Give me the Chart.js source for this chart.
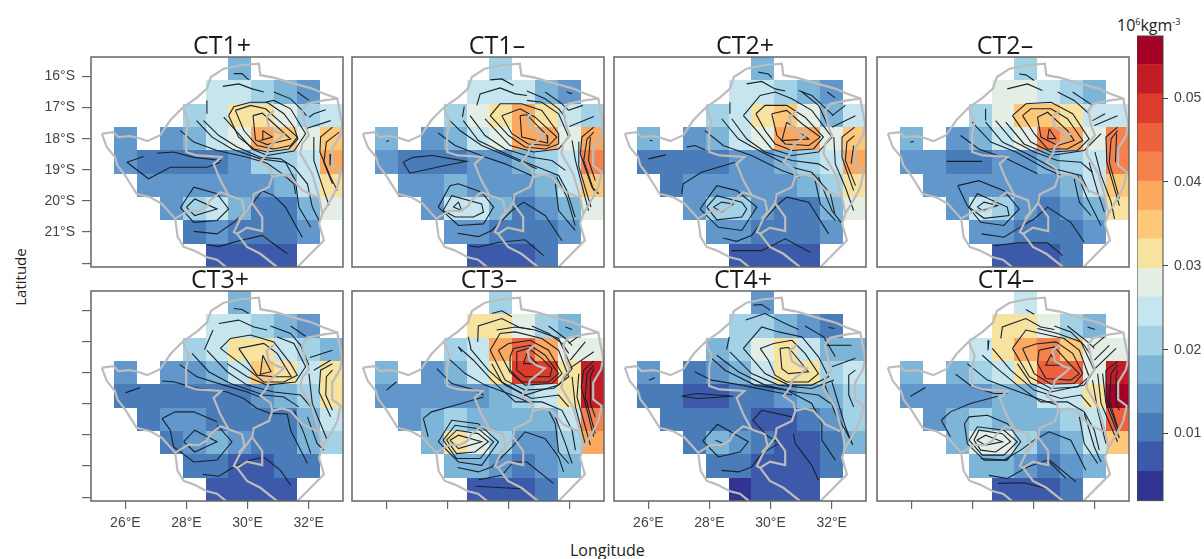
<!DOCTYPE html>
<html lang="en">
  <head>
    <meta charset="UTF-8" />
    <title>CT composites</title>
    <script src="https://cdn.jsdelivr.net/npm/chart.js"></script>
    <style>
      body { margin: 0; background: #ffffff; }
      canvas { position: absolute; filter: blur(0.3px); }
      .label { position: absolute; font-family: "Open Sans", sans-serif; color: #222222; white-space: nowrap; }
      .label sup { font-size: 9px; line-height: 0; }
    </style>
  </head>
  <body>
    <div class="label" style="left:570px; top:539px; font-size:16px;">Longitude</div>
    <div class="label" style="left:-9px; top:267px; font-size:15px; transform:rotate(-90deg);">Latitude</div>
    <div class="label" style="left:1117px; top:14px; font-size:16px;">10<sup>6</sup>kgm<sup>-3</sup></div>
    <script>
      const _ = null;

      // grid cell centres (0.75 degree grid)
      const colLons = [25.25, 26, 26.75, 27.5, 28.25, 29, 29.75, 30.5, 31.25, 32, 32.75];
      const rowLats = [15.75, 16.5, 17.25, 18, 18.75, 19.5, 20.25, 21, 21.75];

      const xTicks = [26, 28, 30, 32];
      const yTicks = [16, 17, 18, 19, 20, 21, 22];
      const barTicks = [10, 20, 30, 40, 50];

      // colour levels, in 10^-3
      const levelBreaks = [2, 5.5, 9, 12.4, 15.9, 19.3, 22.8, 26.3, 29.7, 33.2, 36.6, 40.1, 43.6, 47, 50.5, 54, 57.4];
      const levelColors = ["#313490", "#3c5aa9", "#4a7cb9", "#6197ca", "#7db5d8", "#a3d2e7", "#c6e5ef", "#e5eee5",
        "#f7e2a0", "#fdc978", "#fca85e", "#f6814c", "#ee613d", "#dd3b2b", "#c21d25", "#a50026"];

      // cell values, in 10^-3
      const ct1Plus = [
        [_,_,_,_,_,_,18,_,_,_,_],
        [_,_,_,_,_,25,25,21,18,14,_],
        [_,_,_,_,21,25,31,31,28,21,25],
        [_,14,_,14,18,25,28,38,35,28,35],
        [_,14,11,11,11,11,14,21,21,25,38],
        [_,_,14,14,14,14,14,14,18,25,31],
        [_,_,_,14,21,25,18,11,11,18,28],
        [_,_,_,_,11,14,11,11,11,14,_],
        [_,_,_,_,_,7,7,7,7,_,_],
      ];
      const ct1Minus = [
        [_,_,_,_,_,_,21,_,_,_,_],
        [_,_,_,_,_,25,25,25,18,14,_],
        [_,_,_,_,21,28,31,38,31,25,21],
        [_,18,_,14,18,25,28,38,38,28,38],
        [_,14,11,11,11,14,14,18,21,25,42],
        [_,_,14,14,18,14,14,14,18,25,35],
        [_,_,_,14,25,25,18,11,14,18,28],
        [_,_,_,_,14,14,11,11,11,14,_],
        [_,_,_,_,_,7,7,7,11,_,_],
      ];
      const ct2Plus = [
        [_,_,_,_,_,_,18,_,_,_,_],
        [_,_,_,_,_,25,25,21,18,14,_],
        [_,_,_,_,21,25,31,35,28,18,25],
        [_,18,_,14,18,25,28,38,38,28,35],
        [_,11,11,11,11,14,14,18,21,25,38],
        [_,_,11,14,14,14,14,14,18,21,31],
        [_,_,_,14,21,21,14,11,11,18,28],
        [_,_,_,_,14,14,11,11,11,14,_],
        [_,_,_,_,_,7,7,7,7,_,_],
      ];
      const ct2Minus = [
        [_,_,_,_,_,_,21,_,_,_,_],
        [_,_,_,_,_,28,28,25,21,18,_],
        [_,_,_,_,21,28,35,35,31,25,25],
        [_,18,_,14,18,25,28,42,38,28,42],
        [_,14,14,11,11,14,14,18,21,25,42],
        [_,_,14,14,14,14,14,14,18,25,35],
        [_,_,_,14,25,21,14,11,14,18,31],
        [_,_,_,_,14,14,11,11,11,14,_],
        [_,_,_,_,_,7,7,7,11,_,_],
      ];
      const ct3Plus = [
        [_,_,_,_,_,_,18,_,_,_,_],
        [_,_,_,_,_,25,25,21,18,14,_],
        [_,_,_,_,21,25,31,31,25,21,18],
        [_,14,_,14,14,18,25,35,31,25,31],
        [_,11,11,11,11,11,11,14,18,21,31],
        [_,_,11,14,14,11,11,11,11,18,25],
        [_,_,_,11,14,18,14,11,11,18,21],
        [_,_,_,_,11,11,7,7,11,11,_],
        [_,_,_,_,_,7,7,7,7,_,_],
      ];
      const ct3Minus = [
        [_,_,_,_,_,_,21,_,_,_,_],
        [_,_,_,_,_,31,31,28,21,18,_],
        [_,_,_,_,21,25,38,45,38,28,28],
        [_,18,_,14,18,25,31,49,49,31,52],
        [_,14,14,14,14,14,18,21,25,31,52],
        [_,_,14,18,21,18,18,18,18,25,42],
        [_,_,_,18,31,28,21,14,14,21,38],
        [_,_,_,_,18,18,14,11,14,18,_],
        [_,_,_,_,_,7,7,7,11,_,_],
      ];
      const ct4Plus = [
        [_,_,_,_,_,_,14,_,_,_,_],
        [_,_,_,_,_,21,21,18,14,11,_],
        [_,_,_,_,18,21,28,31,25,18,18],
        [_,14,_,11,14,18,25,31,31,21,25],
        [_,11,11,7,7,11,11,14,18,18,21],
        [_,_,11,11,11,11,7,7,11,14,21],
        [_,_,_,11,18,14,11,7,7,11,18],
        [_,_,_,_,11,11,7,7,7,11,_],
        [_,_,_,_,_,4,7,7,7,_,_],
      ];
      const ct4Minus = [
        [_,_,_,_,_,_,25,_,_,_,_],
        [_,_,_,_,_,31,31,28,21,18,_],
        [_,_,_,_,25,31,38,42,35,28,28],
        [_,18,_,18,21,25,31,45,45,28,52],
        [_,14,14,14,14,18,18,25,25,31,56],
        [_,_,14,18,21,18,18,18,21,25,45],
        [_,_,_,18,28,28,21,14,18,25,35],
        [_,_,_,_,18,18,14,11,14,18,_],
        [_,_,_,_,_,7,7,7,11,_,_],
      ];

      // country and basin outlines, flat lon,lat(S) lists
      const borderLines = [
        [25.23,17.84, 25.61,17.79, 25.77,17.95, 26.15,17.92, 26.40,17.97, 26.72,18.08, 27.14,17.89, 27.47,17.41, 27.88,17.00, 28.34,16.68, 28.67,16.39, 28.80,16.02, 29.22,15.75, 29.77,15.64, 30.37,15.59, 30.42,15.96, 30.86,16.04, 31.52,16.23, 32.12,16.39, 32.45,16.53, 32.94,16.71, 32.99,17.00, 33.10,17.52, 33.03,17.89, 32.77,18.32, 32.77,18.86, 33.05,19.07, 32.94,19.55, 32.77,19.88, 32.45,20.41, 32.34,20.73, 32.50,21.27, 31.63,22.13],
        [25.23,17.84, 25.39,18.27, 25.66,18.59, 25.74,18.86, 25.99,19.18, 26.37,19.77, 26.81,19.88, 27.19,20.09, 27.63,20.57, 27.71,21.16, 27.91,21.48, 28.23,21.59, 28.67,21.81, 29.00,21.89, 29.30,22.13],
        [27.88,17.00, 28.07,17.46, 27.99,17.84, 27.99,18.43, 28.34,18.54, 28.89,18.57, 29.14,18.59, 28.89,18.81, 29.11,19.34, 29.38,19.82, 29.82,19.98, 29.90,20.36, 29.71,20.57],
        [30.86,17.11, 30.62,17.30, 30.70,17.63, 30.97,17.79, 31.19,17.86, 30.97,18.05, 30.70,18.25, 30.64,18.48, 30.42,18.75, 30.75,18.97, 30.81,19.23, 30.70,19.55, 30.20,19.79, 30.15,20.07, 30.48,20.52, 30.48,20.97, 29.98,20.86, 29.66,21.06, 29.98,21.48, 30.42,21.70, 30.97,22.13],
        [30.81,19.23, 31.13,19.15, 31.41,19.23, 31.79,19.66, 32.28,19.88],
        [32.96,16.71, 32.50,16.77, 31.95,16.88, 31.79,17.11, 31.90,17.63, 32.01,17.89, 31.79,18.16, 31.73,18.48, 32.12,19.13, 32.34,19.88, 32.45,20.41],
        [27.63,20.57, 28.07,20.31, 28.40,20.33, 28.67,20.18, 28.78,19.98, 29.11,19.72, 29.38,19.82],
        [30.15,20.07, 29.77,20.57, 29.55,21.00, 29.66,21.06],
      ];

      // contour lines per panel, flat lon,lat(S) lists
      const ct1PlusLines = [
        [29.55,15.91, 29.82,15.91, 30.04,16.11],
        [29.19,16.32, 29.71,16.24, 30.15,16.40, 30.53,16.50],
        [30.86,16.50, 31.41,16.72, 31.74,17.04, 31.93,17.26],
        [31.63,16.50, 32.01,16.77],
        [32.01,17.31, 32.17,17.20, 32.56,17.07],
        [31.90,17.68, 32.72,17.42],
        [28.67,16.77, 28.67,17.20],
        [30.50,17.74, 30.81,17.95, 30.48,18.04, 30.50,17.74],
        [30.18,17.26, 30.48,17.18, 30.86,17.52, 31.41,18.01, 30.64,18.19, 30.26,18.04, 30.18,17.26],
        [29.60,17.09, 30.10,16.93, 30.59,17.04, 31.08,17.47, 31.63,17.95, 31.41,18.22, 30.86,18.33, 30.31,18.22, 29.88,17.74, 29.60,17.09],
        [29.38,17.26, 29.55,16.97, 30.10,16.83, 30.64,16.83, 31.19,17.20, 31.52,17.63, 31.65,18.01, 31.35,18.33, 30.64,18.43, 30.21,18.33, 29.71,17.95, 29.38,17.26],
        [29.22,17.31, 29.66,17.79, 30.15,18.33, 30.64,18.54, 31.52,18.40, 31.90,17.84, 31.41,17.04, 30.86,16.77, 30.59,16.83],
        [28.56,17.42, 29.06,17.90, 29.66,18.27, 30.42,18.60, 31.08,18.65, 31.52,18.92, 31.96,19.45, 32.12,20.20, 32.34,20.63],
        [28.33,17.42, 28.84,17.95, 29.49,18.33, 30.42,18.65, 31.24,18.76, 31.57,19.35, 31.68,20.20, 32.07,20.85],
        [27.80,17.74, 28.24,18.11, 29.00,18.38, 29.99,18.60, 30.64,18.79, 31.14,19.13, 31.52,19.45, 31.57,19.77],
        [27.03,18.47, 27.58,18.43, 28.24,18.60, 29.14,18.70],
        [26.05,18.76, 26.60,18.57],
        [26.05,18.76, 26.76,19.29, 27.47,18.92, 28.67,18.92, 29.11,18.76],
        [27.80,20.22, 28.24,19.56, 29.00,19.77, 29.38,20.26, 29.00,20.63, 28.24,20.69, 27.80,20.22],
        [28.00,20.20, 28.27,19.94, 29.00,20.26, 28.27,20.47, 28.00,20.20],
        [28.24,20.98, 29.00,21.06, 29.55,20.69, 30.15,20.10, 30.48,19.67, 30.86,19.83, 31.24,20.20, 31.79,21.17],
        [28.67,21.40, 29.06,21.47, 29.66,21.30, 30.48,21.11, 31.30,21.70],
        [32.78,17.63, 32.39,17.95, 32.37,18.43, 32.72,19.24, 32.94,19.67],
        [33.00,17.79, 32.58,18.11, 32.50,18.76, 32.78,19.45],
        [32.72,18.49, 32.70,18.86],
        [32.17,17.95, 32.17,18.70, 32.50,19.67, 32.67,20.15],
      ];
      const ct1MinusLines = [
        [29.40,16.11, 29.78,16.08, 30.16,16.29],
        [28.96,16.93, 29.07,16.56, 29.72,16.37, 30.22,16.56, 30.60,16.61],
        [30.60,16.47, 31.20,16.72, 31.64,17.04, 31.86,17.31],
        [31.20,16.50, 31.75,16.88, 31.97,17.09],
        [31.91,16.50, 32.08,16.56],
        [31.97,17.09, 32.43,16.93],
        [31.99,17.61, 32.79,17.29],
        [28.55,16.97, 28.49,17.31],
        [26.00,18.09, 26.09,18.06],
        [30.38,17.26, 30.60,17.23, 31.26,17.90, 31.28,18.14, 30.43,17.95, 30.38,17.26],
        [29.78,17.26, 30.38,17.04, 30.87,17.31, 31.58,17.95, 31.31,18.22, 30.65,18.17, 30.11,17.84, 29.78,17.26],
        [29.40,17.26, 29.72,16.88, 30.43,16.88, 31.09,17.09, 31.64,17.84, 31.64,18.17, 31.20,18.33, 30.54,18.27, 30.00,17.90, 29.40,17.26],
        [29.23,17.36, 30.05,18.22, 30.82,18.43, 31.64,18.33, 31.97,17.95, 31.64,17.20, 31.09,16.83, 30.60,16.77],
        [28.74,17.26, 29.23,17.90, 29.89,18.33, 30.76,18.60, 31.42,18.70, 31.86,19.02],
        [28.52,17.42, 29.01,18.06, 29.78,18.43, 30.54,18.76, 31.09,18.97, 31.64,19.18, 31.91,19.67, 32.18,20.52],
        [28.08,17.42, 28.41,17.74, 29.12,18.22, 30.05,18.60, 30.92,18.97],
        [27.70,17.82, 28.25,18.22, 29.18,18.57, 29.89,18.81, 30.76,19.19],
        [31.58,19.24, 31.91,19.88, 32.18,20.79],
        [31.53,19.45, 31.64,20.31, 32.18,20.95],
        [26.55,18.76, 26.88,18.60, 27.50,18.54, 28.63,18.73, 27.92,18.86, 26.77,19.11, 26.55,18.76],
        [27.70,20.20, 28.08,19.51, 28.36,19.45, 29.12,19.72, 29.51,20.20, 29.18,20.74, 28.36,20.79, 27.70,20.20],
        [27.86,20.31, 28.14,19.83, 29.12,20.10, 29.18,20.36, 28.85,20.52, 28.25,20.52, 27.86,20.31],
        [28.19,20.20, 28.36,20.04, 28.47,20.31, 28.19,20.20],
        [28.33,21.04, 29.01,21.15, 29.45,20.95, 30.11,20.31, 30.49,20.04, 31.20,20.47, 31.75,21.28],
        [28.71,21.44, 29.01,21.49, 29.67,21.33, 30.54,21.25, 31.15,21.76],
        [32.79,17.63, 32.40,17.95, 32.35,18.49, 32.73,19.56, 32.95,19.77],
        [32.79,17.79, 32.57,18.01, 32.46,18.70, 32.79,19.67],
        [32.68,17.95, 32.62,18.70, 32.84,19.35],
        [32.08,18.06, 32.19,18.70, 32.62,20.31],
        [32.30,18.10, 32.30,18.90, 32.70,20.20],
      ];
      const ct2PlusLines = [
        [29.60,15.86, 29.93,15.92, 30.04,16.04],
        [29.22,16.24, 29.71,16.16, 30.15,16.40, 30.48,16.47],
        [31.03,16.50, 31.57,16.93, 31.85,17.52],
        [30.92,16.45, 31.35,16.61, 31.79,17.01, 32.06,17.26],
        [31.85,16.50, 32.12,16.69],
        [32.01,17.26, 32.45,16.93],
        [32.01,17.63, 32.78,17.26],
        [28.67,16.83, 28.67,17.20],
        [26.05,18.05, 26.13,18.07],
        [26.00,18.65, 26.57,18.52],
        [27.25,18.27, 27.52,18.22, 27.85,18.36],
        [27.09,19.77, 27.14,19.45, 27.74,19.08, 28.84,18.76],
        [30.53,17.47, 30.37,18.06, 31.25,18.01, 30.53,17.47],
        [30.04,17.20, 30.53,17.09, 31.03,17.52, 31.63,17.95, 31.25,18.22, 30.48,18.17, 30.21,17.90, 30.04,17.20],
        [29.52,17.20, 29.82,16.93, 30.53,16.93, 31.13,17.31, 31.73,17.95, 31.41,18.33, 30.70,18.38, 30.15,18.17, 29.82,17.74, 29.52,17.20],
        [29.11,17.26, 29.66,16.61, 30.15,16.50, 30.70,16.72, 31.35,17.09, 32.01,17.95, 31.57,18.43, 30.70,18.54, 30.04,18.33, 29.55,17.74, 29.11,17.26],
        [28.73,17.36, 29.22,18.01, 29.82,18.43, 30.70,18.70, 31.57,18.81, 31.90,19.02],
        [28.40,17.36, 28.95,18.01, 29.71,18.43, 30.70,18.92, 31.35,19.08, 31.96,19.77, 32.10,20.40],
        [27.85,17.74, 28.45,18.22, 29.38,18.54, 30.37,19.02, 30.97,19.24],
        [31.57,19.24, 32.01,20.31, 32.34,20.74],
        [31.46,19.35, 31.63,20.10, 32.12,20.63],
        [27.69,20.26, 28.24,19.51, 28.89,19.67, 29.55,20.20, 29.06,20.95, 28.29,20.85, 27.69,20.26],
        [27.91,20.20, 28.24,19.83, 29.06,20.04, 29.22,20.26, 29.06,20.52, 28.24,20.61, 27.91,20.20],
        [28.13,20.20, 28.40,20.04, 28.78,20.10, 28.40,20.36, 28.13,20.20],
        [28.45,21.19, 28.89,21.30, 29.38,21.11, 29.71,20.69, 30.26,20.10, 30.53,19.88, 31.25,20.04, 31.90,21.06],
        [28.73,21.60, 29.71,21.60, 30.48,21.22, 31.30,21.65],
        [32.75,17.63, 32.34,17.95, 32.34,18.60, 32.72,19.67],
        [32.75,17.90, 32.50,18.11, 32.45,18.70, 32.78,19.51],
        [32.72,18.22, 32.64,18.81],
        [32.07,17.95, 32.12,18.81, 32.45,19.56, 32.72,20.31],
      ];
      const ct2MinusLines = [
        [29.53,15.92, 29.75,15.95, 30.02,16.13],
        [29.14,16.40, 29.80,16.24, 30.29,16.45],
        [30.79,16.50, 31.33,16.77, 31.82,17.20],
        [31.28,16.50, 31.93,16.93],
        [31.93,17.42, 32.34,17.20],
        [31.99,17.58, 32.75,17.26],
        [28.43,17.04, 28.43,17.42],
        [25.97,18.11, 26.08,18.09],
        [27.15,18.73, 28.32,18.73],
        [30.51,17.68, 30.73,18.00, 30.46,18.00, 30.51,17.68],
        [30.13,17.31, 30.46,17.15, 31.11,17.74, 31.33,18.06, 30.79,18.22, 30.24,17.95, 30.13,17.31],
        [29.64,17.26, 29.91,17.04, 30.57,17.04, 31.11,17.36, 31.61,18.06, 31.11,18.33, 30.46,18.33, 30.02,17.84, 29.64,17.26],
        [29.31,17.26, 29.75,16.88, 30.57,16.83, 31.28,17.20, 31.82,18.01, 31.44,18.38, 30.57,18.43, 29.91,18.11, 29.31,17.26],
        [29.09,17.47, 29.69,18.17, 30.57,18.54, 31.66,18.38, 32.21,17.84],
        [28.76,17.42, 29.31,18.06, 30.02,18.43, 30.79,18.70, 31.55,18.76, 31.93,19.08],
        [28.43,17.47, 28.98,18.11, 29.80,18.49, 30.68,18.97, 31.55,19.18, 31.82,19.72],
        [27.99,17.47, 28.60,18.11, 29.42,18.43, 30.40,18.97, 30.89,19.18],
        [27.61,17.90, 28.21,18.33, 29.14,18.65, 30.13,19.13],
        [31.44,19.18, 31.77,19.94, 32.21,20.79],
        [31.33,19.29, 31.50,20.04, 31.88,20.47],
        [27.52,19.51, 28.21,19.35, 29.03,19.67, 29.53,20.26, 29.03,20.79, 28.27,20.69, 27.83,20.15, 27.52,19.51],
        [27.89,20.20, 28.16,19.77, 29.14,20.20, 29.20,20.47, 28.38,20.56, 27.89,20.20],
        [28.16,20.20, 28.38,20.04, 28.82,20.15, 28.32,20.31, 28.16,20.20],
        [28.30,21.06, 29.03,21.17, 29.47,20.90, 30.02,20.58, 30.46,20.20, 31.22,20.69, 31.66,21.33],
        [28.71,21.44, 29.47,21.35, 30.46,21.35, 30.95,21.76],
        [32.75,17.63, 32.37,17.95, 32.40,18.76, 32.81,20.15],
        [32.75,17.74, 32.54,18.01, 32.48,18.76, 32.81,19.93],
        [32.72,17.84, 32.68,18.76],
        [32.01,18.43, 32.21,19.18, 32.54,20.04, 32.65,20.58],
        [31.82,18.76, 32.10,19.72, 32.32,20.36],
      ];
      const ct3PlusLines = [
        [29.55,15.94, 29.82,15.97, 30.04,16.10],
        [29.06,16.42, 29.71,16.31, 30.21,16.53, 30.64,16.63],
        [30.75,16.50, 31.41,16.74, 31.74,17.12, 32.01,17.76],
        [31.41,16.50, 31.90,16.83],
        [32.04,17.51, 32.78,17.28],
        [32.17,17.92, 32.72,17.60],
        [28.87,16.63, 28.59,17.26],
        [26.00,18.65, 26.49,18.48],
        [27.20,18.27, 27.58,18.29, 28.24,18.48, 29.33,18.62, 29.88,18.83, 30.31,19.15, 30.75,19.31, 31.30,19.33, 31.41,19.85, 31.96,20.92],
        [30.50,17.44, 30.77,17.97, 30.42,18.05, 30.50,17.44],
        [29.71,17.22, 30.53,17.06, 30.97,17.38, 31.43,18.13, 30.86,18.13, 30.31,18.08, 29.71,17.22],
        [29.11,17.22, 29.44,16.90, 30.10,16.79, 30.86,17.01, 31.41,17.71, 31.63,18.08, 31.19,18.30, 30.53,18.30, 29.99,17.87, 29.11,17.22],
        [29.33,17.71, 29.99,18.13, 30.64,18.40, 31.57,18.30, 31.90,17.81, 31.52,17.06, 30.97,16.85],
        [28.67,17.28, 29.33,17.97, 29.99,18.40, 30.86,18.62, 31.74,18.72, 32.07,19.10],
        [28.18,17.38, 28.73,17.97, 29.44,18.35, 30.53,18.72, 31.19,18.78, 31.68,19.10],
        [27.78,17.74, 28.34,18.13, 29.22,18.40, 29.99,18.62, 30.53,18.83],
        [31.52,19.21, 31.85,19.96, 32.07,20.60],
        [31.96,19.42, 32.28,20.28, 32.50,20.49],
        [27.20,19.47, 27.63,19.26, 28.24,19.26, 29.00,19.58],
        [27.20,19.47, 27.47,19.85, 27.58,20.39, 28.24,20.87, 29.00,20.81, 29.49,20.22, 29.00,19.69],
        [27.91,20.22, 28.27,19.85, 29.00,20.22, 28.27,20.55, 27.91,20.22],
        [28.54,21.27, 29.06,21.33, 29.55,21.03, 30.10,20.81, 30.53,20.71, 31.08,21.14, 31.41,21.62],
        [32.78,17.71, 32.39,17.92, 32.34,18.62, 32.72,19.42],
        [32.78,17.92, 32.58,18.13, 32.56,18.72, 32.78,19.21],
        [32.01,18.03, 32.12,18.99, 32.61,20.17],
      ];
      const ct3MinusLines = [
        [29.45,16.10, 29.78,16.01, 30.11,16.20],
        [28.99,17.01, 29.01,16.50, 29.78,16.26, 30.33,16.53, 30.76,16.61],
        [30.76,16.50, 31.31,16.74, 31.75,17.06, 31.97,17.38],
        [31.31,16.50, 31.86,16.90, 32.08,17.12],
        [31.86,16.53, 32.08,16.61],
        [31.97,17.06, 32.35,16.79],
        [32.02,17.60, 32.51,17.01],
        [31.99,17.87, 32.79,17.33],
        [28.36,17.17, 28.47,17.33],
        [28.68,16.85, 28.77,17.22],
        [26.00,18.56, 26.33,18.30],
        [30.60,17.38, 30.49,17.71, 30.93,17.71, 30.60,17.38],
        [30.27,17.33, 30.65,17.22, 31.09,17.54, 31.42,17.87, 31.36,18.13, 30.54,18.13, 30.27,17.92, 30.27,17.33],
        [30.05,17.49, 30.16,17.22, 30.71,17.12, 31.20,17.44, 31.64,18.03, 31.31,18.30, 30.43,18.30, 30.05,17.92, 30.05,17.49],
        [29.67,17.28, 30.00,17.06, 30.71,16.96, 31.31,17.28, 31.75,18.03, 31.42,18.35, 30.54,18.40, 30.05,17.99, 29.67,17.28],
        [29.40,17.28, 29.72,16.74, 30.22,16.69, 31.09,16.90, 31.64,17.28, 31.97,18.13, 31.47,18.51, 30.54,18.56, 29.89,18.24, 29.40,17.28],
        [29.45,17.71, 29.78,18.30, 30.54,18.72, 31.64,18.40, 32.08,17.87, 31.64,16.90, 30.87,16.63, 30.22,16.53, 29.61,16.63],
        [28.74,17.22, 29.34,17.92, 29.89,18.40, 30.76,18.83, 31.64,18.72, 31.97,19.10],
        [28.36,17.17, 28.85,17.60, 29.45,18.24, 30.22,18.94, 31.09,18.94, 31.75,19.21, 32.08,19.85, 32.19,20.49],
        [28.03,17.54, 28.58,18.03, 29.23,18.40, 30.11,18.72, 30.76,18.99],
        [27.65,17.87, 28.14,18.35, 28.90,18.56, 29.18,18.72],
        [27.21,19.47, 27.48,19.26, 28.25,19.05, 29.18,18.78],
        [27.21,19.47, 27.37,20.06],
        [31.53,19.42, 31.86,20.28, 32.08,20.92],
        [31.31,19.21, 31.53,19.64, 31.64,20.55, 31.97,20.92],
        [27.70,20.22, 28.14,19.53, 29.01,19.64, 29.67,20.22, 29.12,20.98, 28.36,20.87, 27.70,20.22],
        [27.86,20.17, 28.25,19.69, 29.01,19.80, 29.51,20.22, 29.07,20.76, 28.30,20.76, 27.86,20.17],
        [27.97,20.17, 28.30,19.85, 29.01,19.96, 29.34,20.22, 28.90,20.55, 28.30,20.60, 27.97,20.17],
        [28.08,20.17, 28.36,20.01, 29.12,20.22, 28.36,20.44, 28.08,20.17],
        [28.33,21.05, 29.01,21.19, 29.45,21.03, 30.11,20.39, 30.54,19.90, 31.20,20.12, 31.64,20.71, 31.80,21.19],
        [29.01,21.44, 29.78,21.30, 30.16,20.87, 30.60,20.87, 31.47,21.56],
        [28.93,21.65, 30.43,21.73],
        [32.79,17.62, 32.46,17.92, 32.38,18.46, 32.79,20.06],
        [32.79,17.76, 32.57,18.03, 32.51,18.78, 32.84,19.96],
        [32.79,17.87, 32.68,18.13, 32.68,18.99, 32.84,19.42],
        [32.30,18.03, 32.24,18.78, 32.68,20.33],
        [32.08,18.13, 32.19,19.10, 32.51,20.28],
      ];
      const ct4PlusLines = [
        [29.44,15.83, 29.71,15.81, 29.99,15.99],
        [29.19,16.31, 29.82,16.10, 30.48,16.42, 30.92,16.61],
        [31.13,16.50, 31.74,16.85, 32.12,17.49],
        [31.90,16.55, 32.10,16.58],
        [31.79,17.12, 32.65,17.12],
        [32.01,17.81, 32.78,17.54],
        [28.65,16.85, 28.56,17.26],
        [26.02,18.24, 26.21,18.16],
        [27.09,18.76, 27.58,18.67, 28.78,18.76, 27.63,18.83, 27.09,18.76],
        [30.31,17.22, 30.59,17.19, 31.24,17.97, 30.59,18.03, 30.37,17.87, 30.31,17.22],
        [29.66,17.22, 30.10,17.06, 30.70,16.96, 31.13,17.38, 31.57,18.03, 31.24,18.30, 30.53,18.30, 30.15,18.08, 29.93,17.60, 29.66,17.22],
        [29.11,17.22, 29.71,16.53, 30.26,16.69, 31.03,16.85, 31.57,17.49, 31.90,18.13, 31.35,18.40, 30.59,18.40, 29.82,18.03, 29.11,17.22],
        [28.67,17.33, 29.38,18.03, 30.26,18.40, 31.35,18.51, 32.07,18.24],
        [28.24,17.44, 28.95,17.97, 29.82,18.40, 30.81,18.62, 31.57,18.72, 31.96,18.99],
        [28.02,17.49, 28.51,17.92, 29.49,18.40, 30.53,18.56, 31.35,18.99, 31.68,19.64, 31.68,20.17, 32.12,20.81],
        [27.52,17.97, 28.07,18.24, 29.06,18.40, 30.15,18.62, 30.70,18.72],
        [29.42,19.53, 29.71,19.21, 30.70,19.42],
        [29.42,19.53, 29.93,20.06, 30.31,20.26],
        [30.75,19.96, 30.81,20.28, 31.35,20.98, 31.57,21.46],
        [31.74,18.30, 32.12,19.31, 32.45,19.85, 32.67,20.28],
        [32.01,18.30, 32.45,19.74, 32.69,20.33],
        [32.78,17.92, 32.56,18.08, 32.56,18.72, 32.72,19.10],
        [27.78,20.19, 28.26,19.66, 29.27,20.22, 29.00,20.55, 28.29,20.71, 27.78,20.19],
        [28.20,20.17, 28.42,20.26],
        [28.40,21.14, 28.95,21.19, 29.38,21.03, 29.71,20.60, 30.26,20.28],
      ];
      const ct4MinusLines = [
        [29.75,15.97, 30.02,16.12],
        [28.93,16.90, 28.98,16.53, 29.75,16.26, 30.24,16.53, 30.68,16.61],
        [30.68,16.50, 31.22,16.69, 31.66,17.12, 31.88,17.44],
        [31.11,16.50, 31.77,17.01, 31.99,17.22],
        [31.77,16.53, 32.01,16.61],
        [31.93,17.17, 32.32,16.85],
        [31.99,17.60, 32.48,17.12],
        [32.01,17.87, 32.70,17.22],
        [28.54,16.96, 28.51,17.28],
        [25.97,18.76, 26.46,18.48],
        [26.98,19.53, 27.28,19.26, 27.94,18.99, 28.82,18.76],
        [26.98,19.53, 27.28,20.06],
        [30.57,17.42, 30.40,17.76, 30.84,17.76, 30.57,17.42],
        [30.13,17.71, 30.18,17.28, 30.68,17.17, 31.22,17.76, 31.50,18.03, 31.22,18.24, 30.40,18.19, 30.13,17.71],
        [29.64,17.22, 30.07,17.08, 30.73,17.01, 31.28,17.38, 31.61,18.03, 31.33,18.35, 30.57,18.37, 30.02,18.03, 29.64,17.22],
        [29.31,17.22, 29.75,16.63, 30.24,16.74, 31.00,16.90, 31.50,17.28, 31.82,18.13, 31.44,18.46, 30.57,18.51, 29.86,18.13, 29.31,17.22],
        [29.47,17.71, 29.91,18.35, 30.57,18.62, 31.66,18.40, 31.99,17.92, 31.55,17.01, 30.79,16.74, 30.13,16.58],
        [28.65,17.22, 29.25,17.92, 30.02,18.56, 30.89,18.83, 31.55,18.72, 31.88,19.10],
        [28.32,17.44, 28.87,17.92, 29.47,18.40, 30.24,18.94, 31.11,18.94, 31.66,19.26, 31.99,19.85, 32.15,20.49],
        [27.83,17.71, 28.49,18.24, 29.36,18.56, 30.13,18.83, 30.79,19.05],
        [27.45,18.05, 28.00,18.46, 28.71,18.67, 29.14,18.67],
        [31.50,19.42, 31.66,20.28, 32.10,20.92],
        [31.66,19.31, 31.99,20.39, 32.21,20.87],
        [27.74,19.64, 27.89,19.42, 28.49,19.37, 29.14,19.64, 29.58,20.22, 29.14,20.81, 28.38,20.81, 27.83,20.28, 27.74,19.64],
        [27.89,20.17, 28.16,19.74, 29.03,19.85, 29.47,20.22, 29.03,20.65, 28.32,20.65, 27.89,20.17],
        [28.05,20.17, 28.21,19.85, 28.98,19.96, 29.25,20.22, 28.76,20.55, 28.27,20.49, 28.05,20.17],
        [28.14,20.17, 28.43,20.01, 28.98,20.22, 28.43,20.33, 28.14,20.17],
        [28.27,20.76, 29.03,20.81, 29.58,20.49, 30.02,20.17, 30.51,19.90, 31.22,20.17, 31.71,21.14],
        [28.54,21.30, 29.14,21.40, 29.80,21.03, 30.46,20.81, 31.06,21.40],
        [28.84,21.56, 29.69,21.54, 30.46,21.73],
        [30.46,20.76, 31.39,21.51],
        [32.75,17.65, 32.37,17.92, 32.37,18.78, 32.75,19.80],
        [32.75,17.76, 32.54,18.03, 32.48,18.89, 32.75,19.74],
        [32.75,17.92, 32.70,18.13, 32.70,18.99, 32.81,19.21],
        [32.10,18.03, 32.21,18.99, 32.75,20.22],
        [32.26,18.03, 32.37,18.99, 32.81,20.10],
        [31.93,18.24, 32.10,19.21, 32.37,20.28],
      ];

      function toPoints(flat) {
        const points = [];
        for (let i = 0; i < flat.length; i += 2) {
          points.push({ x: flat[i], y: flat[i + 1] });
        }
        return points;
      }

      function levelColor(value) {
        for (let i = 0; i < levelColors.length; i++) {
          if (value < levelBreaks[i + 1]) return levelColors[i];
        }
        return levelColors[levelColors.length - 1];
      }

      // fills the grid cells under the lines, then frame and title on top
      const panelPlugin = {
        id: "panel",
        beforeDatasetsDraw(chart, args, opts) {
          const ctx = chart.ctx;
          const xs = chart.scales.x;
          const ys = chart.scales.y;
          opts.cells.forEach((row, r) => {
            row.forEach((value, c) => {
              if (value === null) return;
              const x0 = Math.round(xs.getPixelForValue(colLons[c] - 0.375));
              const x1 = Math.round(xs.getPixelForValue(colLons[c] + 0.375));
              const y0 = Math.round(ys.getPixelForValue(rowLats[r] - 0.375));
              const y1 = Math.round(ys.getPixelForValue(rowLats[r] + 0.375));
              ctx.fillStyle = levelColor(value);
              ctx.fillRect(x0, y0, x1 - x0, y1 - y0);
            });
          });
        },
        afterDatasetsDraw(chart, args, opts) {
          const ctx = chart.ctx;
          const a = chart.chartArea;
          ctx.strokeStyle = "#666666";
          ctx.lineWidth = 1.5;
          ctx.strokeRect(a.left, a.top, a.right - a.left, a.bottom - a.top);
          ctx.fillStyle = "#1a1a1a";
          ctx.font = '25px "Open Sans"';
          ctx.textAlign = "center";
          ctx.textBaseline = "alphabetic";
          ctx.fillText(opts.title, (a.left + a.right) / 2 + opts.titleShift, a.top - 3);
        },
      };

      function drawPanel(title, titleShift, cells, lines, left, top, showY, showYLabels, showX, showXLabels) {
        const canvas = document.createElement("canvas");
        canvas.width = 372;
        canvas.height = 286;
        canvas.style.left = left - 60 + "px";
        canvas.style.top = top - 36 + "px";
        document.body.appendChild(canvas);

        const datasets = [];
        borderLines.forEach((line) => {
          datasets.push({ data: toPoints(line), borderColor: "#bcbcbc", borderWidth: 2.2 });
        });
        lines.forEach((line) => {
          datasets.push({ data: toPoints(line), borderColor: "#17222e", borderWidth: 1.1 });
        });

        new Chart(canvas, {
          type: "scatter",
          data: { datasets: datasets },
          options: {
            responsive: false,
            animation: false,
            showLine: true,
            elements: { point: { radius: 0 }, line: { tension: 0 } },
            layout: { padding: { top: 36, right: 60, left: 0, bottom: 0 } },
            plugins: {
              legend: { display: false },
              tooltip: { enabled: false },
              panel: { title: title, titleShift: titleShift, cells: cells },
            },
            scales: {
              x: {
                type: "linear",
                min: 24.875,
                max: 33.125,
                afterBuildTicks(scale) {
                  scale.ticks = xTicks.map((v) => ({ value: v }));
                },
                afterFit(scale) {
                  scale.height = 40;
                },
                border: { display: false },
                grid: { drawOnChartArea: false, drawTicks: showX, tickLength: 8, color: "#666666", lineWidth: 1.2 },
                ticks: {
                  display: showX,
                  autoSkip: false,
                  maxRotation: 0,
                  padding: 6,
                  color: "#444444",
                  font: { family: "Liberation Sans", size: 14 },
                  callback: (v) => (showXLabels ? v + "°E" : ""),
                },
              },
              y: {
                type: "linear",
                reverse: true,
                min: 15.375,
                max: 22.125,
                afterBuildTicks(scale) {
                  scale.ticks = yTicks.map((v) => ({ value: v }));
                },
                afterFit(scale) {
                  scale.width = 60;
                },
                border: { display: false },
                grid: { drawOnChartArea: false, drawTicks: showY, tickLength: 9, color: "#666666", lineWidth: 1.2 },
                ticks: {
                  display: showY,
                  autoSkip: false,
                  padding: 7,
                  color: "#444444",
                  font: { family: "Liberation Sans", size: 14 },
                  callback: (v) => (showYLabels && v < 22 ? v + "°S" : ""),
                },
              },
            },
          },
          plugins: [panelPlugin],
        });
      }

      drawPanel("CT1+", 5, ct1Plus, ct1PlusLines, 91, 57, true, true, false, false);
      drawPanel("CT1–", 19, ct1Minus, ct1MinusLines, 352, 57, false, false, false, false);
      drawPanel("CT2+", 5, ct2Plus, ct2PlusLines, 614, 57, false, false, false, false);
      drawPanel("CT2–", 2, ct2Minus, ct2MinusLines, 877, 57, false, false, false, false);
      drawPanel("CT3+", 3, ct3Plus, ct3PlusLines, 91, 291, true, false, true, true);
      drawPanel("CT3–", 11, ct3Minus, ct3MinusLines, 352, 291, false, false, true, false);
      drawPanel("CT4+", 3, ct4Plus, ct4PlusLines, 614, 291, false, false, true, true);
      drawPanel("CT4–", 3, ct4Minus, ct4MinusLines, 877, 291, false, false, true, false);

      // colour bar
      const barCanvas = document.createElement("canvas");
      barCanvas.width = 67;
      barCanvas.height = 515;
      barCanvas.style.left = "1137px";
      barCanvas.style.top = "0px";
      document.body.appendChild(barCanvas);

      new Chart(barCanvas, {
        type: "bar",
        data: {
          labels: ["level"],
          datasets: levelColors.map((color, i) => ({
            data: [[levelBreaks[i], levelBreaks[i + 1]]],
            backgroundColor: color,
            grouped: false,
            barPercentage: 1,
            categoryPercentage: 1,
          })),
        },
        options: {
          responsive: false,
          animation: false,
          layout: { padding: { top: 36, bottom: 9, left: 0, right: 0 } },
          plugins: { legend: { display: false }, tooltip: { enabled: false } },
          scales: {
            x: { display: false },
            y: {
              position: "right",
              min: 2,
              max: 57.4,
              afterBuildTicks(scale) {
                scale.ticks = barTicks.map((v) => ({ value: v }));
              },
              afterFit(scale) {
                scale.width = 41;
              },
              border: { display: false },
              grid: { drawOnChartArea: false, tickLength: 5, color: "#444444" },
              ticks: {
                autoSkip: false,
                padding: 6,
                color: "#444444",
                font: { family: "Liberation Sans", size: 14 },
                callback: (v) => (v / 1000).toFixed(2),
              },
            },
          },
        },
        plugins: [
          {
            id: "barFrame",
            afterDatasetsDraw(chart) {
              const a = chart.chartArea;
              chart.ctx.strokeStyle = "#444444";
              chart.ctx.lineWidth = 1;
              chart.ctx.strokeRect(a.left, a.top, a.right - a.left, a.bottom - a.top);
            },
          },
        ],
      });
    </script>
  </body>
</html>
